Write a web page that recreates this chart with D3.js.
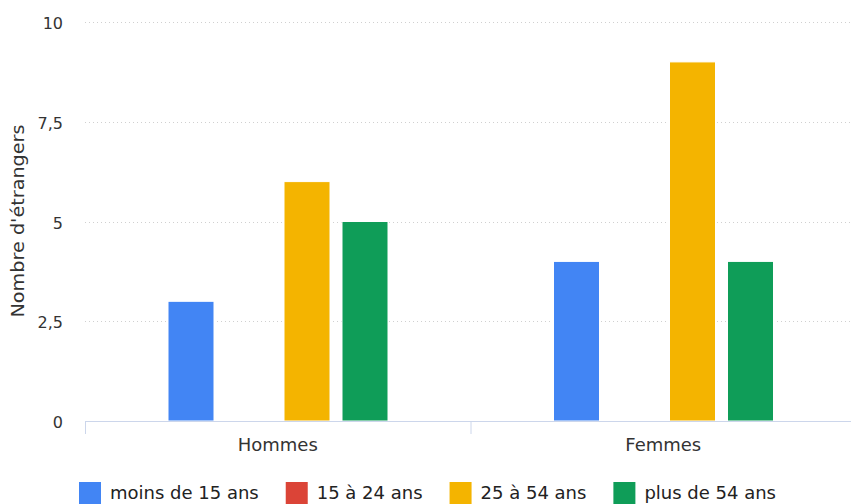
<!DOCTYPE html>
<html>
<head>
<meta charset="utf-8">
<script src="https://cdn.jsdelivr.net/npm/d3@7"></script>
<style>
  body { margin: 0; background: #fff; }
  svg { display: block; font-family: "DejaVu Sans", sans-serif; }
</style>
</head>
<body>
<svg id="chart" width="851" height="504"></svg>
<script>
// data
const categories = ["Hommes", "Femmes"];
const series = ["moins de 15 ans", "15 à 24 ans", "25 à 54 ans", "plus de 54 ans"];
const colors = ["#4285f4", "#db4437", "#f4b400", "#0f9d58"];
const hommes = [3, 0, 6, 5];
const femmes = [4, 0, 9, 4];
const yTicks = [0, 2.5, 5, 7.5, 10];
const yTitle = "Nombre d'étrangers";

const values = [hommes, femmes];

const svg = d3.select("#chart");
const plotLeft = 85, plotRight = 856, plotTop = 22, plotBottom = 421;

const x = d3.scaleBand().domain(categories).range([plotLeft, plotRight]);
const xs = d3.scaleBand().domain(series).range([83, 303]).paddingInner(12 / 58).paddingOuter(0);
const y = d3.scaleLinear().domain([0, 10]).range([plotBottom, plotTop]);
const fmt = v => String(v).replace(".", ",");

// dotted grid
svg.append("g")
  .selectAll("line")
  .data(yTicks.filter(d => d > 0))
  .join("line")
  .attr("x1", plotLeft).attr("x2", 851)
  .attr("y1", d => Math.round(y(d)) + 0.5).attr("y2", d => Math.round(y(d)) + 0.5)
  .attr("stroke", "#d0d0d0")
  .attr("stroke-width", 1)
  .attr("stroke-dasharray", "1,3");

// y labels
svg.append("g")
  .selectAll("text")
  .data(yTicks)
  .join("text")
  .attr("x", 63)
  .attr("y", d => y(d) + 7)
  .attr("text-anchor", "end")
  .attr("font-size", 16)
  .attr("fill", "#333")
  .text(fmt);

svg.append("text")
  .attr("transform", "translate(24,221) rotate(-90)")
  .attr("text-anchor", "middle")
  .attr("font-size", 17.5)
  .attr("textLength", 193)
  .attr("lengthAdjust", "spacingAndGlyphs")
  .attr("fill", "#333")
  .text(yTitle);

// bars
const groups = svg.append("g")
  .selectAll("g")
  .data(categories)
  .join("g")
  .attr("transform", d => `translate(${x(d)},0)`);

groups.selectAll("rect")
  .data((d, i) => series.map((s, j) => ({ s, j, v: values[i][j] })))
  .join("rect")
  .filter(d => d.v > 0)
  .attr("x", d => xs(d.s))
  .attr("y", d => y(d.v))
  .attr("width", xs.bandwidth())
  .attr("height", d => y(0) - y(d.v))
  .attr("fill", d => colors[d.j])
  .attr("stroke", "#fff")
  .attr("stroke-width", 1);

// x axis
const xAxis = svg.append("g");
xAxis.append("line")
  .attr("x1", plotLeft).attr("x2", 851)
  .attr("y1", plotBottom + 0.5).attr("y2", plotBottom + 0.5)
  .attr("stroke", "#ccd6eb");
xAxis.selectAll("line.tick")
  .data([plotLeft, x("Femmes")])
  .join("line")
  .attr("class", "tick")
  .attr("x1", d => d + 0.5).attr("x2", d => d + 0.5)
  .attr("y1", plotBottom).attr("y2", plotBottom + 13)
  .attr("stroke", "#ccd6eb");
xAxis.selectAll("text")
  .data(categories)
  .join("text")
  .attr("x", d => x(d) + x.bandwidth() / 2)
  .attr("y", 451)
  .attr("text-anchor", "middle")
  .attr("font-size", 18)
  .attr("fill", "#333")
  .text(d => d);

// legend
const legend = svg.append("g");
let lx = 79;
series.forEach((s, i) => {
  legend.append("rect")
    .attr("x", lx).attr("y", 482)
    .attr("width", 22).attr("height", 22)
    .attr("fill", colors[i]);
  const t = legend.append("text")
    .attr("x", lx + 31).attr("y", 499)
    .attr("font-size", 18)
    .attr("fill", "#222")
    .text(s);
  lx += 31 + t.node().getComputedTextLength() + 27;
});
</script>
</body>
</html>
